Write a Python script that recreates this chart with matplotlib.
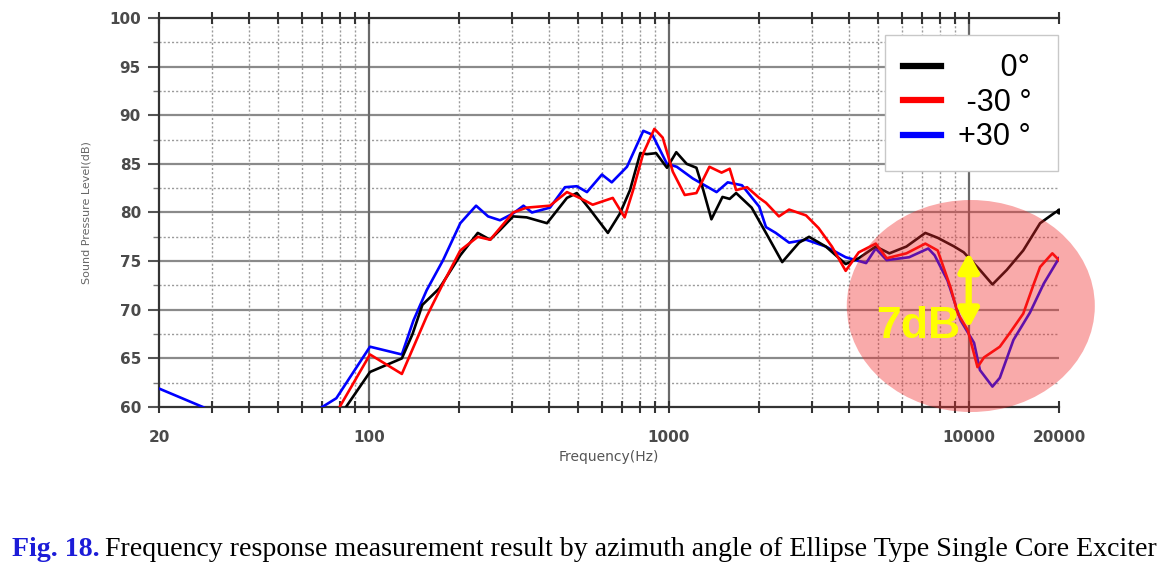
import numpy as np
import matplotlib
matplotlib.use("Agg")
import matplotlib.pyplot as plt
from matplotlib.patches import Ellipse
from matplotlib.ticker import FixedLocator, NullFormatter

# -----------------------------
# DATA
# -----------------------------
black_f = [84, 101, 129, 140, 151, 172, 202, 231, 254, 274, 303, 336, 393, 458, 494,
           547, 627, 688, 743, 804, 846, 908, 987, 1060, 1148, 1237, 1296, 1388, 1511,
           1597, 1678, 1890, 2110, 2390, 2720, 2937, 3340, 3890, 4300, 4900, 5440, 6200,
           7170, 7880, 8950, 9630, 10900, 12000, 13400, 15200, 17300, 19400, 20000]
black_v = [60.0, 63.6, 65.0, 67.5, 70.5, 72.2, 75.6, 77.9, 77.2, 78.2, 79.6, 79.5, 78.9,
           81.5, 82.0, 80.3, 77.9, 79.9, 82.3, 86.1, 86.0, 86.1, 84.6, 86.2, 85.0, 84.6,
           82.6, 79.3, 81.6, 81.4, 82.0, 80.5, 77.9, 74.9, 76.9, 77.5, 76.5, 74.7, 75.3,
           76.5, 75.8, 76.5, 77.9, 77.4, 76.5, 75.9, 74.1, 72.6, 74.1, 76.1, 78.9, 80.0,
           80.2]

red_f = [80, 101, 129, 156, 177, 202, 231, 254, 303, 336, 402, 458, 505, 558, 651, 713,
         761, 823, 896, 955, 1032, 1131, 1237, 1367, 1501, 1597, 1678, 1825, 2003, 2110,
         2330, 2520, 2870, 3160, 3500, 3890, 4300, 4900, 5330, 6200, 7170, 7880, 8700,
         9200, 9930, 10700, 11250, 12700, 13700, 15200, 16500, 17300, 19000, 20000]
red_v = [60.0, 65.4, 63.4, 69.3, 72.7, 76.1, 77.5, 77.2, 80.0, 80.5, 80.7, 82.1, 81.5,
         80.8, 81.5, 79.5, 82.3, 86.1, 88.6, 87.7, 84.2, 81.8, 82.0, 84.7, 84.1, 84.5,
         82.3, 82.6, 81.5, 81.0, 79.6, 80.3, 79.7, 78.4, 76.5, 74.0, 75.9, 76.8, 75.3,
         75.8, 76.8, 76.1, 72.3, 69.6, 67.9, 64.1, 65.1, 66.2, 67.6, 69.6, 72.7, 74.4,
         75.8, 75.1]

blue_f = [20, 28, 40, 55, 70, 78, 101, 129, 141, 156, 177, 202, 228, 250, 274, 303, 328,
          350, 402, 451, 494, 534, 599, 646, 726, 823, 882, 987, 1064, 1203, 1444, 1573,
          1755, 2003, 2110, 2275, 2520, 2870, 3340, 3890, 4550, 4900, 5330, 6330, 7330,
          7700, 8500, 9400, 10420, 10900, 12000, 12700, 14100, 16000, 17800, 20000]
blue_v = [61.9, 60.0, 57.5, 57.5, 60.0, 60.9, 66.2, 65.4, 68.9, 72.0, 75.1, 78.9, 80.7,
          79.6, 79.2, 79.9, 80.7, 80.0, 80.5, 82.6, 82.7, 82.1, 83.9, 83.1, 84.7, 88.4,
          88.0, 85.0, 84.7, 83.5, 82.1, 83.1, 82.8, 80.6, 78.5, 77.9, 76.9, 77.2, 76.5,
          75.4, 74.8, 76.3, 75.1, 75.4, 76.3, 75.6, 73.0, 68.9, 66.6, 63.8, 62.1, 63.0,
          66.9, 69.7, 72.7, 75.3]

labels = ["     0° ", " -30 ° ", "+30 ° "]
x_ticks = [20, 100, 1000, 10000, 20000]
x_ticklabels = ["20", "100", "1000", "10000", "20000"]
drop_f = 10000            # where the 7dB arrow sits
drop_top, drop_bot = 75.9, 68.1

# -----------------------------
# FIGURE
# -----------------------------
fig = plt.figure(figsize=(11.71, 5.65), dpi=100)
ax = fig.add_axes([159 / 1171, 1 - 407 / 565, 900 / 1171, 389 / 565])

ax.set_xscale("log")
ax.set_xlim(20, 20000)
ax.set_ylim(60, 100)

# grid
ax.set_yticks(np.arange(60, 101, 5))
ax.yaxis.set_minor_locator(FixedLocator(np.arange(62.5, 100, 5)))
minor_x = [m * d for d in (10, 100, 1000) for m in range(2, 10) if 20 < m * d < 20000]
minor_x = [v for v in minor_x if v not in (100, 1000, 10000)]
ax.xaxis.set_minor_locator(FixedLocator(minor_x))
ax.xaxis.set_minor_formatter(NullFormatter())
ax.set_xticks(x_ticks)
ax.set_xticklabels(x_ticklabels)

for y in np.arange(65, 100, 5):
    ax.axhline(y, color="#8a8a8a", lw=1.6, zorder=1)
for y in np.arange(62.5, 100, 5):
    ax.axhline(y, color="#9a9a9a", lw=1.0, ls=(0, (1.5, 1.5)), zorder=1)
for x in (100, 1000, 10000):
    ax.axvline(x, color="#6a6a6a", lw=1.6, zorder=1)
for x in minor_x:
    ax.axvline(x, color="#9a9a9a", lw=1.0, ls=(0, (1.5, 1.5)), zorder=1)

for s in ("left", "bottom", "top"):
    ax.spines[s].set_color("#333333")
    ax.spines[s].set_linewidth(1.6)
ax.spines["right"].set_visible(False)

ax.tick_params(axis="y", which="major", direction="out", length=8, width=1.5,
               color="#555555", labelsize=11, labelcolor="#4a4a4a", pad=5)
ax.tick_params(axis="y", which="minor", direction="out", length=4, width=1, color="#777777")
ax.tick_params(axis="x", which="both", direction="inout", length=9, width=1.5,
               color="#333333", labelsize=11, labelcolor="#4a4a4a", pad=12, top=True)
for t in ax.get_xticklabels() + ax.get_yticklabels():
    t.set_fontweight("bold")

ax.set_ylabel("Sound Pressure Level(dB)", fontsize=8, color="#666666", labelpad=13)
ax.set_xlabel("Frequency(Hz)", fontsize=10, color="#555555", labelpad=4)

# curves
ax.plot(black_f, black_v, color="black", lw=1.9, label=labels[0], zorder=4)
ax.plot(red_f, red_v, color="#ff0000", lw=1.9, label=labels[1], zorder=4)
ax.plot(blue_f, blue_v, color="#0000ff", lw=1.9, label=labels[2], zorder=3)
ax.plot([black_f[-1]], [black_v[-1]], "o", color="black", ms=3.5, zorder=4)

leg = ax.legend(loc="upper right", bbox_to_anchor=(0.9989, 0.9563), borderaxespad=0,
                fancybox=False, framealpha=1, edgecolor="#c8c8c8",
                prop={"family": "Liberation Sans", "size": 22},
                handlelength=1.24, handletextpad=0.55, labelspacing=0.15, borderpad=0.6)
leg.get_frame().set_linewidth(1.0)
for line in leg.get_lines():
    line.set_linewidth(4.5)
leg.set_zorder(6)

# highlight ellipse + 7dB arrow
ell = Ellipse((0.902, 0.2596), 0.2756, 0.545, transform=ax.transAxes,
              facecolor="#f02c2c", alpha=0.4, edgecolor="none", clip_on=False, zorder=5)
ax.add_patch(ell)
ax.annotate("", xy=(drop_f, drop_bot), xytext=(drop_f, drop_top),
            arrowprops=dict(arrowstyle="<|-|>,head_length=1.1,head_width=0.6",
                            color="#ffff00", lw=4.5, shrinkA=0, shrinkB=0), zorder=7)
ax.text(4920, 67.1, "7dB", color="#ffff00", fontsize=32, fontweight="bold",
        family="Liberation Sans", ha="left", va="baseline", zorder=7)

# caption
cap_size = 19
t1 = fig.text(12 / 1171, 1 - 556 / 565, "Fig. 18.", color="#1c1cd8", fontweight="bold",
              family="Liberation Serif", fontsize=cap_size, va="baseline")
fig.canvas.draw()
bb = t1.get_window_extent()
t2 = fig.text(bb.x1 / 1171 + 5 / 1171, 1 - 556 / 565,
              "Frequency response measurement result by azimuth angle of Ellipse Type Single Core Exciter",
              color="black", family="Liberation Serif", fontsize=cap_size, va="baseline")
fig.canvas.draw()
w = t2.get_window_extent().x1 - 12
scale = (1155 - 12) / w
t1.set_fontsize(cap_size * scale)
fig.canvas.draw()
bb = t1.get_window_extent()
t2.set_fontsize(cap_size * scale)
t2.set_x((bb.x1 + 5) / 1171)

fig.savefig("out.png", dpi=100)
